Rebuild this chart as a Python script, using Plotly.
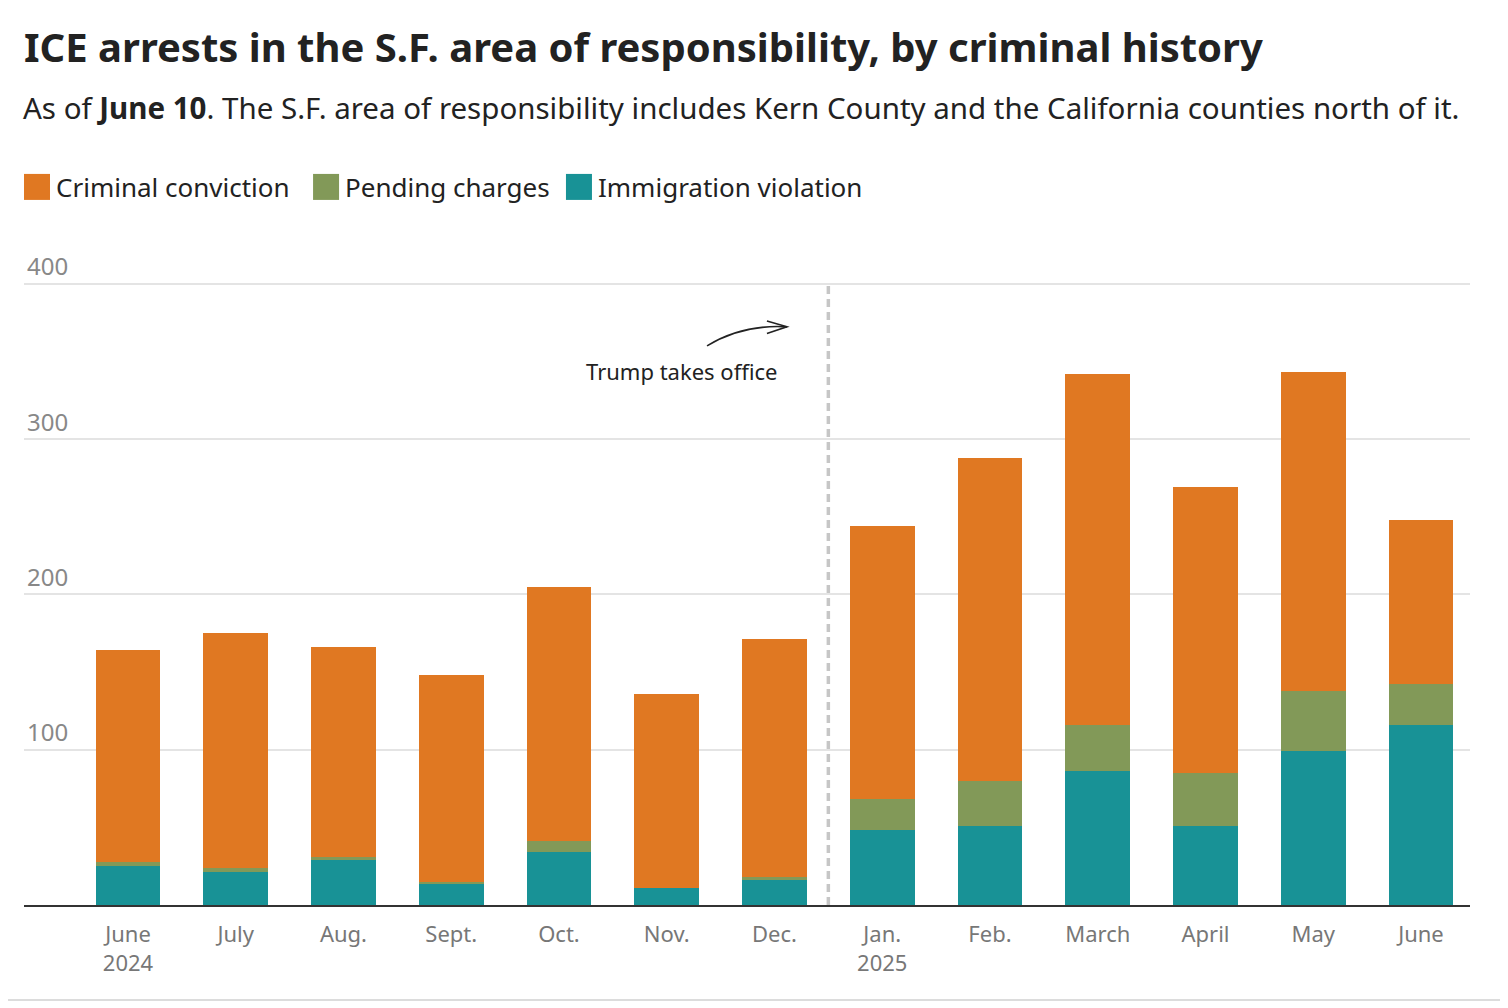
import plotly.graph_objects as go

# monthly ICE arrests, S.F. area of responsibility
months = ["June<br>2024", "July", "Aug.", "Sept.", "Oct.", "Nov.", "Dec.",
          "Jan.<br>2025", "Feb.", "March", "April", "May", "June"]
immigration_violation = [25, 21, 29, 14, 34, 11, 16, 48, 51, 86, 51, 99, 116]
pending_charges = [3, 3, 2, 1, 7, 0, 2, 20, 29, 30, 34, 39, 26]
criminal_conviction = [136, 151, 135, 133, 164, 125, 153, 176, 208, 226, 184, 205, 106]
y_ticks = [100, 200, 300, 400]

legend_names = ['Criminal conviction', 'Pending charges', 'Immigration violation']

ORANGE = '#E07822'
GREEN = '#829958'
TEAL = '#189296'
FONT = 'Noto Sans'
INK = '#222222'

x = list(range(len(months)))

fig = go.Figure()
fig.add_trace(go.Bar(x=x, y=immigration_violation, name='Immigration violation',
                     marker=dict(color=TEAL, line=dict(width=0))))
fig.add_trace(go.Bar(x=x, y=pending_charges, name='Pending charges',
                     marker=dict(color=GREEN, line=dict(width=0))))
fig.add_trace(go.Bar(x=x, y=criminal_conviction, name='Criminal conviction',
                     marker=dict(color=ORANGE, line=dict(width=0))))

# dashed divider between Dec. and Jan.
fig.add_shape(type='line', xref='x', yref='y', x0=6.5, x1=6.5, y0=0, y1=400,
              line=dict(color='#c6c6c6', width=3.5, dash='8px,5px'), layer='above')

# curved arrow pointing at the divider
fig.add_shape(type='path', xref='x', yref='y',
              path='M 5.374 360 Q 5.70 374 6.116 372.3',
              line=dict(color=INK, width=1.6))
fig.add_shape(type='path', xref='x', yref='y',
              path='M 5.93 376 L 6.116 372.3 L 5.93 368',
              line=dict(color=INK, width=1.6))

fig.add_annotation(x=5.135, y=344, xref='x', yref='y', text='Trump takes office',
                   showarrow=False, xanchor='center', yanchor='middle',
                   font=dict(family=FONT, size=22, color=INK))

fig.add_annotation(x=-0.002, y=1.209, xref='paper', yref='paper', xanchor='left', yanchor='middle',
                   text='As of <b>June 10</b>. The S.F. area of responsibility includes Kern County '
                        'and the California counties north of it.',
                   showarrow=False, font=dict(family=FONT, size=29.5, color=INK))

# legend drawn as swatches + labels to get the large square keys
legend_colors = [ORANGE, GREEN, TEAL]
swatch_x = [0.0, 0.1999, 0.3748]
label_x = [0.0207, 0.2206, 0.3956]
for name, col, sx, lx in zip(legend_names, legend_colors, swatch_x, label_x):
    fig.add_shape(type='rect', xref='paper', yref='paper',
                  xsizemode='pixel', xanchor=sx, x0=0, x1=26,
                  ysizemode='pixel', yanchor=1.088, y0=-13, y1=13,
                  fillcolor=col, line=dict(width=0))
    fig.add_annotation(x=lx, y=1.088, xref='paper', yref='paper', xanchor='left',
                       yanchor='middle', text=name, showarrow=False,
                       font=dict(family=FONT, size=26, color=INK))

# card edge
fig.add_shape(type='line', xref='paper', yref='paper', x0=1.0228, x1=1.0228, y0=-0.144, y1=1.37,
              line=dict(color='#dcdcdc', width=2))
fig.add_shape(type='line', xref='paper', yref='paper', x0=-0.02, x1=1.0228, y0=-0.144, y1=-0.144,
              line=dict(color='#dcdcdc', width=2))

fig.update_layout(
    width=1508, height=1008,
    paper_bgcolor='white', plot_bgcolor='white',
    margin=dict(l=16, r=46, t=237, b=111),
    barmode='stack', bargap=0.4,
    title=dict(text='<b>ICE arrests in the S.F. area of responsibility, by criminal history</b>',
               xref='container', x=16 / 1508, xanchor='left',
               yref='container', y=1 - 40 / 1008, yanchor='middle',
               font=dict(family=FONT, size=40, color=INK)),
    font=dict(family=FONT, color=INK),
    showlegend=False,
    xaxis=dict(tickmode='array', tickvals=x, ticktext=months,
               range=[-0.965, 12.455], showgrid=False, zeroline=False,
               showline=True, linecolor='#333333', linewidth=2,
               ticks='', ticklabelstandoff=9,
               tickfont=dict(family=FONT, size=22, color='#777777'),
               fixedrange=True),
    yaxis=dict(range=[0, 425], tickmode='array', tickvals=y_ticks,
               showgrid=True, gridcolor='#e4e4e4', gridwidth=1.5,
               zeroline=False, showline=False, ticks='',
               ticklabelposition='inside top',
               tickfont=dict(family=FONT, size=24, color='#888888'),
               fixedrange=True),
)

fig.write_html("out.html")
